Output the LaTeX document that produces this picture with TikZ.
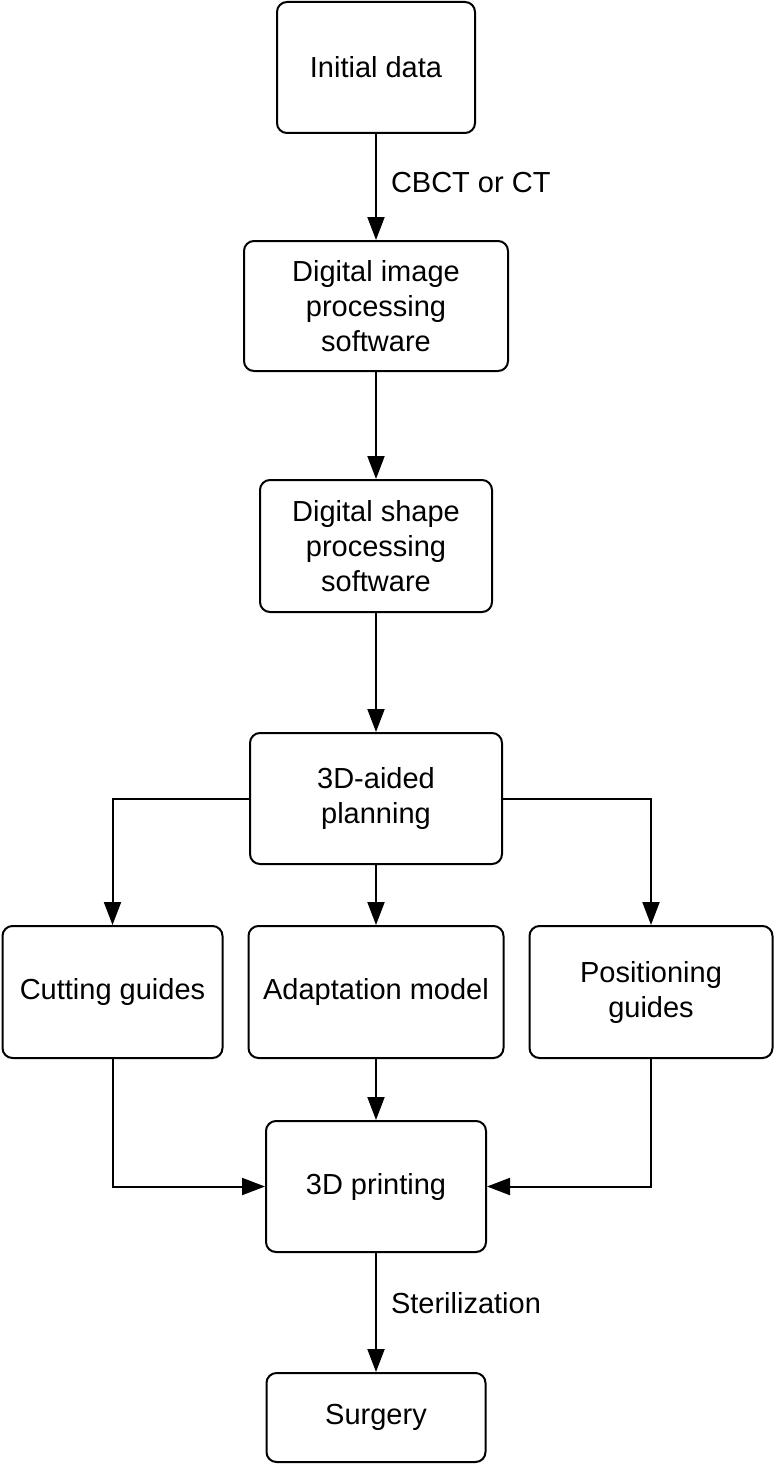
\documentclass[tikz,border=0pt]{standalone}
\usepackage{fontspec}
\setmainfont{Liberation Sans}
\usetikzlibrary{shapes.geometric, arrows.meta, positioning}
\tikzstyle{stepbox} = [rectangle, rounded corners=10pt, minimum height=131pt, text centered, align=center, draw=black, line width=2pt, font=\fontsize{29}{35}\selectfont]
\tikzstyle{arrow} = [line width=2pt, -{Triangle[length=23pt, width=17pt]}]
\tikzstyle{lbl} = [right=14pt, inner sep=0pt, font=\fontsize{29}{35}\selectfont]

\begin{document}
\begin{tikzpicture}[node distance=106pt]
\useasboundingbox (0,0) rectangle (774pt,-1466pt);

\node (start) [stepbox, minimum width=198pt] at (376pt,-67.5pt) {Initial data};
\node (image) [stepbox, minimum width=264pt, minimum height=130pt, below=106pt of start] {Digital image\\processing\\software};
\node (shape) [stepbox, minimum width=232pt, minimum height=132pt, below=107pt of image] {Digital shape\\processing\\software};
\node (plan) [stepbox, minimum width=252pt, below=119pt of shape] {3D-aided\\planning};
\node (adapt) [stepbox, minimum width=255pt, minimum height=132pt, below=60pt of plan] {Adaptation model};
\node (cut) [stepbox, minimum width=220pt, minimum height=132pt, left=24pt of adapt] {Cutting guides};
\node (pos) [stepbox, minimum width=243pt, minimum height=132pt, right=24pt of adapt] {Positioning\\guides};
\node (print) [stepbox, minimum width=220pt, below=61pt of adapt] {3D printing};
\node (surg) [stepbox, minimum width=219pt, minimum height=89pt, below=119pt of print] {Surgery};

\draw [arrow] (start) -- node [lbl, pos=0.46] {CBCT or CT} (image);
\draw [arrow] (image) -- (shape);
\draw [arrow] (shape) -- (plan);
\draw [arrow] (plan.west) -| (cut.north);
\draw [arrow] (plan) -- (adapt);
\draw [arrow] (plan.east) -| (pos.north);
\draw [arrow] (cut.south) |- (print.west);
\draw [arrow] (adapt) -- (print);
\draw [arrow] (pos.south) |- (print.east);
\draw [arrow] (print) -- node [lbl, pos=0.42] {Sterilization} (surg);

\end{tikzpicture}
\end{document}
